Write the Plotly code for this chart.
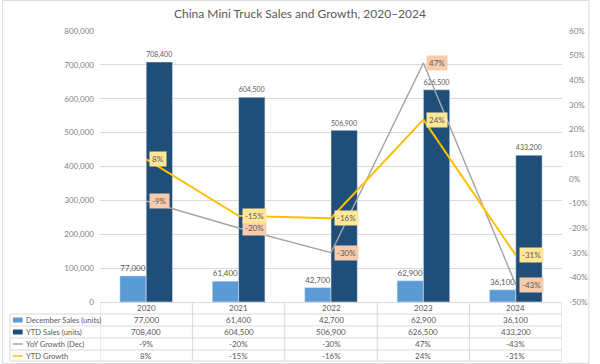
import plotly.graph_objects as go

# ---------------- data ----------------
years = ["2020", "2021", "2022", "2023", "2024"]
dec_sales = [77000, 61400, 42700, 62900, 36100]
ytd_sales = [708400, 604500, 506900, 626500, 433200]
yoy_growth = [-9, -20, -30, 47, -43]
ytd_growth = [8, -15, -16, 24, -31]
series_names = ["December Sales (units)", "YTD Sales (units)", "YoY Growth (Dec)", "YTD Growth"]
left_ticks = [0, 100000, 200000, 300000, 400000, 500000, 600000, 700000, 800000]
right_ticks = [-50, -40, -30, -20, -10, 0, 10, 20, 30, 40, 50, 60]
title_text = "China Mini Truck Sales and Growth, 2020–2024"

# ---------------- styling ----------------
FONT = "Lato"
C_DEC = "#5B9BD5"
C_YTD = "#1F4E79"
C_YOY_L = "#A5A5A5"
C_YTDG_L = "#FFC000"
C_YOY_BOX = "#F8CBAD"
C_YTDG_BOX = "#FFE699"
TXT = "#595959"
AX = "#7F7F7F"
GRID = "#D9D9D9"

W, H = 600, 364
L, R, T, B = 100, 28, 31, 62
PW, PH = W - L - R, H - T - B


def py(y):
    return (H - B - y) / PH


def px(x):
    return (x - L) / PW


def fmt_int(v):
    return f"{v:,}"


def fmt_pct(v):
    return f"{v}%"


fig = go.Figure()
fig.add_trace(go.Bar(x=years, y=dec_sales, name=series_names[0], marker_color=C_DEC,
                     text=[fmt_int(v) for v in dec_sales], textposition="outside",
                     textfont=dict(size=8, color=TXT, family=FONT), cliponaxis=False))
fig.add_trace(go.Bar(x=years, y=ytd_sales, name=series_names[1], marker_color=C_YTD,
                     text=[fmt_int(v) for v in ytd_sales], textposition="outside",
                     textfont=dict(size=8, color=TXT, family=FONT), cliponaxis=False))
fig.add_trace(go.Scatter(x=years, y=yoy_growth, name=series_names[2], mode="lines",
                         line=dict(color=C_YOY_L, width=1.5), yaxis="y2"))
fig.add_trace(go.Scatter(x=years, y=ytd_growth, name=series_names[3], mode="lines",
                         line=dict(color=C_YTDG_L, width=2), yaxis="y2"))

annotations = []
# line data labels (boxes to the right of the points); x given as category index
for vals, box in ((yoy_growth, C_YOY_BOX), (ytd_growth, C_YTDG_BOX)):
    for i, v in enumerate(vals):
        annotations.append(dict(x=i, y=v, xref="x", yref="y2", text=fmt_pct(v),
                                showarrow=False, xanchor="left", yanchor="middle", xshift=3,
                                bgcolor=box, borderpad=2,
                                font=dict(size=8, color=TXT, family=FONT)))

# data table
row_y = [320, 332, 344, 356]
row_vals = [[fmt_int(v) for v in dec_sales], [fmt_int(v) for v in ytd_sales],
            [fmt_pct(v) for v in yoy_growth], [fmt_pct(v) for v in ytd_growth]]
for i, yr in enumerate(years):
    annotations.append(dict(x=i, y=py(308), xref="x", yref="paper", text=yr, showarrow=False,
                            yanchor="middle", font=dict(size=8, color=TXT, family=FONT)))
for ry, vals, name in zip(row_y, row_vals, series_names):
    annotations.append(dict(x=px(22), y=py(ry), xref="paper", yref="paper", text=name,
                            showarrow=False, xanchor="left", yanchor="middle",
                            font=dict(size=7.6, color=TXT, family=FONT)))
    for i, t in enumerate(vals):
        annotations.append(dict(x=i, y=py(ry), xref="x", yref="paper", text=t,
                                showarrow=False, yanchor="middle",
                                font=dict(size=8, color=TXT, family=FONT)))

shapes = []
for hy in [314, 326, 338, 350, 361]:
    shapes.append(dict(type="line", xref="paper", yref="paper", x0=px(8), x1=1, y0=py(hy), y1=py(hy),
                       line=dict(color=GRID, width=1)))
shapes.append(dict(type="line", xref="paper", yref="paper", x0=px(8), x1=px(8), y0=py(314), y1=py(361),
                   line=dict(color=GRID, width=1)))
for i in range(len(years) + 1):
    shapes.append(dict(type="line", xref="x", yref="paper", x0=i - 0.5, x1=i - 0.5, y0=py(302), y1=py(361),
                       line=dict(color=GRID, width=1)))
# legend keys
shapes.append(dict(type="rect", xref="paper", yref="paper", x0=px(11), x1=px(21), y0=py(322.5), y1=py(317.5),
                   fillcolor=C_DEC, line=dict(width=0)))
shapes.append(dict(type="rect", xref="paper", yref="paper", x0=px(11), x1=px(21), y0=py(334.5), y1=py(329.5),
                   fillcolor=C_YTD, line=dict(width=0)))
shapes.append(dict(type="line", xref="paper", yref="paper", x0=px(11), x1=px(21), y0=py(344), y1=py(344),
                   line=dict(color=C_YOY_L, width=1.5)))
shapes.append(dict(type="line", xref="paper", yref="paper", x0=px(11), x1=px(21), y0=py(356), y1=py(356),
                   line=dict(color=C_YTDG_L, width=1.5)))
# chart border
shapes.append(dict(type="rect", xref="paper", yref="paper", x0=px(0.5), x1=px(599.5), y0=py(363.5), y1=py(0.5),
                   line=dict(color=GRID, width=1)))

fig.update_layout(
    width=W, height=H,
    margin=dict(l=L, r=R, t=T, b=B, pad=0),
    paper_bgcolor="white", plot_bgcolor="white",
    font=dict(family=FONT, size=8, color=AX),
    title=dict(text=title_text, x=0.5, xanchor="center", y=1 - 14 / H, yanchor="middle",
               font=dict(size=12, color=TXT, family=FONT)),
    showlegend=False,
    barmode="group", bargap=0.43, bargroupgap=0,
    xaxis=dict(type="category", range=[-0.5, len(years) - 0.5], showticklabels=False, showgrid=False,
               showline=True, linecolor=GRID, linewidth=1, ticks=""),
    yaxis=dict(range=[0, 800000], tickvals=left_ticks, tickformat=",", showgrid=True,
               gridcolor=GRID, gridwidth=1, zeroline=False, showline=False, ticks="",
               tickfont=dict(size=8, color=AX, family=FONT), ticklabelstandoff=5),
    yaxis2=dict(range=[-50, 60], tickvals=right_ticks, ticktext=[fmt_pct(v) for v in right_ticks],
                overlaying="y", side="right",
                showgrid=False, zeroline=False, showline=False, ticks="",
                tickfont=dict(size=8, color=AX, family=FONT), ticklabelstandoff=6),
    annotations=annotations, shapes=shapes,
)

fig.write_html("out.html", config={"displayModeBar": False},
               post_script="document.body.style.margin='0';document.body.style.overflow='hidden';")
